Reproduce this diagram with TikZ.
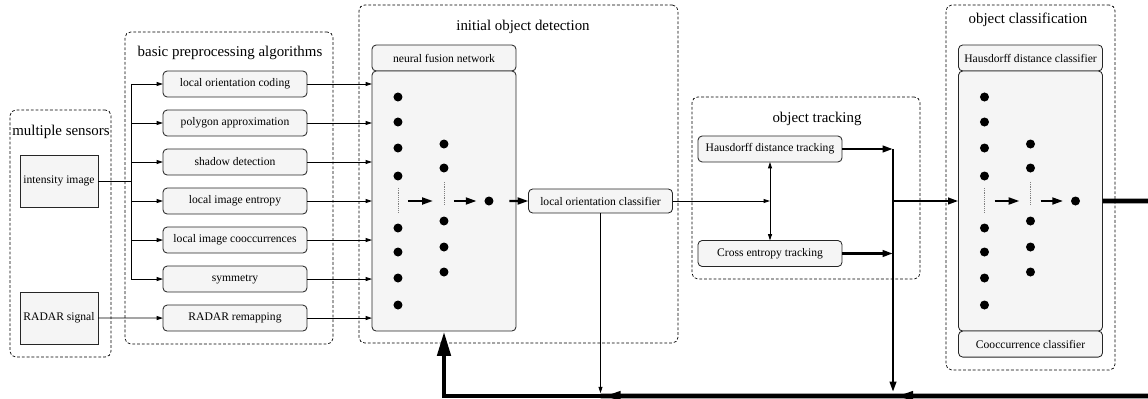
\documentclass[tikz,border=0pt]{standalone}
\usepackage{fontspec}
\setmainfont{Liberation Serif}
\usetikzlibrary{arrows.meta,positioning,fit,calc}
\tikzset{
  grp/.style={draw, dash pattern=on 2pt off 1.4pt, rounded corners=4pt, inner sep=0pt, line width=0.5pt},
  ttl/.style={font=\fontsize{10.6}{12}\selectfont, inner sep=0pt},
  blk/.style={draw=black!85, fill=gray!8, rounded corners=3pt, minimum width=3.6cm, minimum height=0.65cm, inner sep=1pt, outer sep=0pt, font=\fontsize{8.25}{10}\selectfont, line width=0.6pt},
  sens/.style={blk, rounded corners=0pt, minimum width=1.95cm, minimum height=1.3cm},
  neuron/.style={circle, fill=black, inner sep=0pt, minimum size=0.225cm},
  dotline/.style={gray, line width=0.4pt, dash pattern=on 0.5pt off 0.8pt},
  ln/.style={line width=0.6pt},
  arr/.style={ln, -{Triangle[length=1.6mm, width=1mm]}},
  arr2/.style={ln, {Triangle[length=1.6mm, width=1mm]}-{Triangle[length=1.6mm, width=1mm]}},
  narr/.style={line width=1.6pt, -{Triangle[length=2.7mm, width=1.7mm]}},
  tarr/.style={line width=1.8pt, -{Triangle[length=2.6mm, width=1.6mm]}},
  fb/.style={line width=3.5pt},
  fbw/.style={fb, -{Triangle[length=5mm, width=2mm]}},
  fbarr/.style={fb, -{Triangle[length=6.2mm, width=3.2mm]}}
}
\begin{document}
\begin{tikzpicture}[x=0.025cm, y=-0.025cm]
  \useasboundingbox (0,0) rectangle (1148,399);
  % sensors
  \node[grp, fit={(10,110) (111,357)}] (msg) {};
  \node[ttl] (mst) at (61,132) {multiple sensors};
  \node[sens] (int) at (59,181) {intensity image};
  \node[sens] (rad) at (59,318) {RADAR signal};
  % preprocessing
  \node[grp, fit={(125,32) (333,344)}] (bpg) {};
  \node[ttl] (bpt) at (230,53) {basic preprocessing algorithms};
  \node[blk] (loc) at (235,84) {local orientation coding};
  \node[blk, below=0.325cm of loc] (pol) {polygon approximation};
  \node[blk, below=0.325cm of pol] (sha) {shadow detection};
  \node[blk, below=0.325cm of sha] (ent) {local image entropy};
  \node[blk, below=0.325cm of ent] (coo) {local image cooccurrences};
  \node[blk, below=0.325cm of coo] (sym) {symmetry};
  \node[blk, below=0.325cm of sym] (rrm) {RADAR remapping};
  % initial object detection
  \node[grp, fit={(359,5) (678,343)}] (iod) {};
  \node[ttl] (iot) at (523,27) {initial object detection};
  \node[blk] (nfn) at (444,58) {neural fusion network};
  \node[blk, minimum height=6.5cm, below=0pt of nfn] (nfb) {};
  \node[blk, minimum height=0.6cm] (lcl) at (600.5,201) {local orientation classifier};
  % object tracking
  \node[grp, fit={(692,97) (920,279)}] (otg) {};
  \node[ttl] (ott) at (817,119) {object tracking};
  \node[blk] (hdt) at (770,149) {Hausdorff distance tracking};
  \node[blk] (cet) at (770,253.5) {Cross entropy tracking};
  % object classification
  \node[grp, fit={(946,5) (1115,370)}] (ocg) {};
  \node[ttl] (oct) at (1028,20) {object classification};
  \node[blk] (hdc) at (1030.5,58) {Hausdorff distance classifier};
  \node[blk, minimum height=6.5cm, below=0pt of hdc] (hcb) {};
  \node[blk, below=0pt of hcb] (coc) {Cooccurrence classifier};
  % the two networks
  \foreach \b in {nfb,hcb} {
    \foreach \y [count=\i] in {26,51,77,105,157,181,207,234}
      \node[neuron] (\b-a\i) at ($(\b.north west)+(26,\y)$) {};
    \foreach \y [count=\i] in {73,97,150,176,201}
      \node[neuron] (\b-b\i) at ($(\b.north west)+(72,\y)$) {};
    \node[neuron] (\b-o) at ($(\b.north west)+(117,130)$) {};
    \coordinate (\b-am) at ($(\b.north west)+(26,130)$);
    \coordinate (\b-bm) at ($(\b.north west)+(72,130)$);
    \draw[dotline] ($(\b-am)+(0,-13)$) -- ($(\b-am)+(0,11)$);
    \draw[dotline] ($(\b-bm)+(0,-19)$) -- ($(\b-bm)+(0,4)$);
    \draw[narr, shorten <=0.25cm, shorten >=0.275cm] (\b-am) -- (\b-bm);
    \draw[narr, shorten <=0.25cm, shorten >=0.19cm] (\b-bm) -- (\b-o);
  }
  % sensors to preprocessing
  \coordinate (br) at (131,181);
  \draw[ln] (int.east) -- (br);
  \draw[ln] (br |- loc.west) -- (br |- sym.west);
  \foreach \p in {loc,pol,sha,ent,coo,sym}
    \draw[arr] (br |- \p.west) -- (\p.west);
  \draw[arr] (rad.east) -- (rrm.west);
  \foreach \p in {loc,pol,sha,ent,coo,sym,rrm}
    \draw[arr] (\p.east) -- (nfb.west |- \p.east);
  \draw[narr, shorten <=0.39cm] (nfb-o) -- (lcl.west);
  % tracking
  \coordinate (tj) at (hdt.south |- lcl.east);
  \draw[arr] (lcl.east) -- (tj);
  \draw[arr2] (hdt.south) -- (cet.north);
  \coordinate (tk) at (893,201);
  \draw[tarr] (hdt.east) -- (tk |- hdt.east);
  \draw[tarr] (cet.east) -- (tk |- cet.east);
  \draw[tarr] (tk) -- (hcb.west |- tk);
  % feedback
  \coordinate (fbE) at (1160,201);
  \coordinate (fbS) at (1160,396);
  \coordinate (w1) at ($(tk |- fbS)+(20,0)$);
  \coordinate (w2) at ($(lcl.south |- fbS)+(20,0)$);
  \draw[fb] (hcb.east |- hcb-o) -- (fbE) -- (fbS) -- (lcl.south |- fbS);
  \draw[fbarr] (lcl.south |- fbS) -| (nfb.south);
  \draw[fbw] (w1) -- (tk |- fbS);
  \draw[fbw] (w2) -- (lcl.south |- fbS);
  \draw[tarr, shorten >=0.1cm] (tk |- hdt.east) -- (tk |- fbS);
  \draw[arr, shorten >=0.07cm] (lcl.south) -- (lcl.south |- fbS);
\end{tikzpicture}
\end{document}
